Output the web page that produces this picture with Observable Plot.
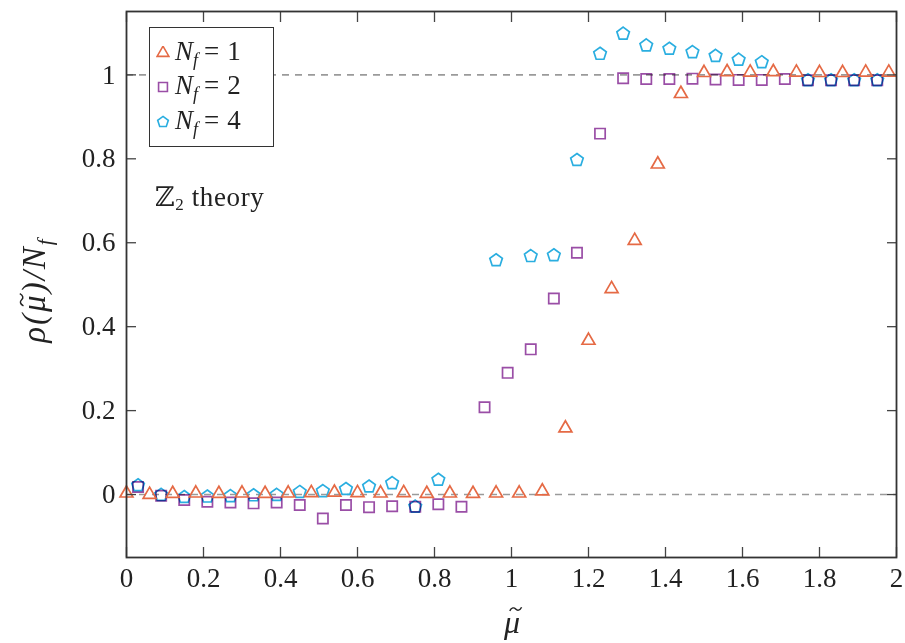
<!DOCTYPE html>
<html><head><meta charset="utf-8">
<script src="https://cdn.jsdelivr.net/npm/d3@7"></script>
<script src="https://cdn.jsdelivr.net/npm/@observablehq/plot@0.6"></script>
<style>
body{margin:0;background:#fff;}
#wrap{position:relative;width:905px;height:643px;font-family:"Liberation Serif","DejaVu Serif",serif;color:#222;}
#wrap > svg{position:absolute;left:0;top:0;}
.legend{position:absolute;left:149px;top:27px;width:125px;height:120px;border:1.6px solid #333;background:#fff;box-sizing:border-box;}
.row{position:absolute;left:6px;height:30px;display:flex;align-items:center;font-size:27px;white-space:nowrap;}
.row svg{margin-right:5px;}
.row sub{font-size:18px;vertical-align:-6px;font-style:italic;}
.eq{margin:0 8px 0 6px;}
.ann{position:absolute;left:155px;top:181px;font-size:27px;letter-spacing:0.6px;white-space:nowrap;}
.ann sub{font-size:17px;vertical-align:-4px;}
.ylab{position:absolute;left:37px;top:290px;transform:translate(-50%,-50%) rotate(-90deg);font-size:33px;font-style:italic;white-space:nowrap;letter-spacing:2px;}
.ylab sub{font-size:21px;vertical-align:-7px;}
.xlab{position:absolute;left:512px;top:622px;transform:translate(-50%,-50%);font-size:32px;font-style:italic;}
.acc{position:relative;display:inline-block;}
.acc svg.t{position:absolute;left:0.16em;top:0.08em;width:0.42em;height:0.16em;overflow:visible;}
</style></head>
<body><div id="wrap"></div>
<script>
// ---- data ----
const xTicks = [0,0.2,0.4,0.6,0.8,1,1.2,1.4,1.6,1.8,2];
const yTicks = [0,0.2,0.4,0.6,0.8,1];
const refLines = [0,1];

const mu1 = [0,0.06,0.12,0.18,0.24,0.30,0.36,0.42,0.48,0.54,0.60,0.66,0.72,0.78,0.84,0.90,0.96,1.02,1.08,1.14,1.20,1.26,1.32,1.38,1.44,1.50,1.56,1.62,1.68,1.74,1.80,1.86,1.92,1.98];
const rho1 = [0.003,0.0,0.002,0.003,0.002,0.003,0.002,0.003,0.004,0.005,0.004,0.003,0.004,0.002,0.003,0.002,0.003,0.003,0.008,0.158,0.367,0.490,0.605,0.787,0.955,1.005,1.007,1.006,1.007,1.006,1.005,1.005,1.006,1.006];

const mu2 = [0.03,0.09,0.15,0.21,0.27,0.33,0.39,0.45,0.51,0.57,0.63,0.69,0.75,0.81,0.87,0.93,0.99,1.05,1.11,1.17,1.23,1.29,1.35,1.41,1.47,1.53,1.59,1.65,1.71,1.77,1.83,1.89,1.95];
const rho2 = [0.018,-0.003,-0.013,-0.017,-0.019,-0.021,-0.019,-0.025,-0.057,-0.025,-0.030,-0.028,-0.029,-0.023,-0.029,0.208,0.290,0.346,0.467,0.576,0.860,0.992,0.990,0.990,0.991,0.989,0.988,0.988,0.990,0.987,0.987,0.987,0.987];

const mu4 = [0.03,0.09,0.15,0.21,0.27,0.33,0.39,0.45,0.51,0.57,0.63,0.69,0.75,0.81,0.96,1.05,1.11,1.17,1.23,1.29,1.35,1.41,1.47,1.53,1.59,1.65,1.77,1.83,1.89,1.95];
const rho4 = [0.022,-0.001,-0.006,-0.005,-0.004,-0.002,-0.001,0.006,0.008,0.013,0.019,0.027,-0.029,0.035,0.558,0.568,0.570,0.797,1.050,1.098,1.070,1.062,1.054,1.045,1.036,1.030,0.987,0.987,0.987,0.987];

const seriesNames = ["1","2","4"];
const seriesColors = ["#e56a45","#9a4ea6","#2aaee0"];

// ---- build tables ----
const d1 = mu1.map((m,i)=>({mu:m, rho:rho1[i]}));
const d2 = mu2.map((m,i)=>({mu:m, rho:rho2[i]}));
const d4 = mu4.map((m,i)=>({mu:m, rho:rho4[i]}));

const pentagon = {
  draw(ctx, size){
    const R = Math.sqrt(size/Math.PI);
    for(let i=0;i<5;i++){
      const a = -Math.PI/2 + i*2*Math.PI/5;
      const px = R*Math.cos(a), py = R*Math.sin(a);
      if(i) ctx.lineTo(px,py); else ctx.moveTo(px,py);
    }
    ctx.closePath();
  }
};

const fmt = d3.format("~g");
const chart = Plot.plot({
  width: 905, height: 643,
  marginLeft: 126, marginRight: 9, marginTop: 11, marginBottom: 86,
  x: {domain: [0, 2], label: null},
  y: {domain: [-0.15, 1.151], label: null},
  style: {fontFamily: '"Liberation Serif","DejaVu Serif",serif', fontSize: "27px", color: "#222", background: "transparent"},
  marks: [
    Plot.ruleY(refLines, {y: d=>d, stroke: "#9a9a9a", strokeWidth: 1.6, strokeDasharray: "7,6"}),
    Plot.dot(d4, {x: "mu", y: "rho", symbol: pentagon, r: 6.6, stroke: seriesColors[2], strokeWidth: 1.7, fill: "none"}),
    Plot.dot(d2, {x: "mu", y: "rho", symbol: "square", r: 5.8, stroke: seriesColors[1], strokeWidth: 1.7, fill: "none", mixBlendMode: "multiply"}),
    Plot.dot(d1, {x: "mu", y: "rho", symbol: "triangle", r: 4.8, stroke: seriesColors[0], strokeWidth: 1.7, fill: "none"}),
    Plot.axisX({ticks: xTicks, tickSize: 0, tickPadding: 10, tickFormat: fmt, label: null}),
    Plot.axisY({ticks: yTicks, tickSize: 0, tickPadding: 11, tickFormat: fmt, label: null}),
    Plot.axisX({anchor: "bottom", ticks: xTicks, tickSize: -10, fill: "none", stroke: "#444", strokeWidth: 1.3, label: null}),
    Plot.axisX({anchor: "top", ticks: xTicks, tickSize: -10, fill: "none", stroke: "#444", strokeWidth: 1.3, label: null}),
    Plot.axisY({anchor: "left", ticks: yTicks, tickSize: -10, fill: "none", stroke: "#444", strokeWidth: 1.3, label: null}),
    Plot.axisY({anchor: "right", ticks: yTicks, tickSize: -10, fill: "none", stroke: "#444", strokeWidth: 1.3, label: null}),
    Plot.frame({stroke: "#333", strokeWidth: 1.8})
  ]
});
const wrap = document.getElementById("wrap");
wrap.appendChild(chart);

// legend
function sym(kind, color){
  const s = d3.create("svg").attr("width",14).attr("height",14).attr("viewBox","-7 -7 14 14");
  let p;
  if(kind==="triangle") p = d3.symbol(d3.symbolTriangle, 4.4*4.4*Math.PI)();
  else if(kind==="square") p = d3.symbol(d3.symbolSquare, 5.0*5.0*Math.PI)();
  else p = d3.symbol(pentagon, 5.6*5.6*Math.PI)();
  s.append("path").attr("d", p).attr("fill","none").attr("stroke",color).attr("stroke-width",1.6);
  return s.node();
}
const legend = document.createElement("div");
legend.className = "legend";
const kinds = ["triangle","square","pentagon"];
const rowTops = [10, 44, 79];
seriesNames.forEach((n,i)=>{
  const row = document.createElement("div");
  row.className = "row";
  row.style.top = rowTops[i]+"px";
  row.appendChild(sym(kinds[i], seriesColors[i]));
  const t = document.createElement("span");
  t.innerHTML = '<i>N</i><sub>f</sub><span class="eq">=</span>' + n;
  row.appendChild(t);
  legend.appendChild(row);
});
wrap.appendChild(legend);

const ann = document.createElement("div");
ann.className = "ann";
ann.innerHTML = 'ℤ<sub>2</sub> theory';
wrap.appendChild(ann);

// tilde accent drawn as a small path over μ
const tildeSvg = '<svg class="t" viewBox="0 0 10 4" preserveAspectRatio="none"><path d="M0.6,3.4 C2,0.6 3.8,0.6 5,2 C6.2,3.4 8,3.4 9.4,0.6" fill="none" stroke="#222" stroke-width="1.1"/></svg>';
const muTilde = '<span class="acc">μ' + tildeSvg + '</span>';
const ylab = document.createElement("div");
ylab.className = "ylab";
ylab.innerHTML = 'ρ(' + muTilde + ')/N<sub>f</sub>';
wrap.appendChild(ylab);

const xlab = document.createElement("div");
xlab.className = "xlab";
xlab.innerHTML = muTilde;
wrap.appendChild(xlab);
</script></body></html>
